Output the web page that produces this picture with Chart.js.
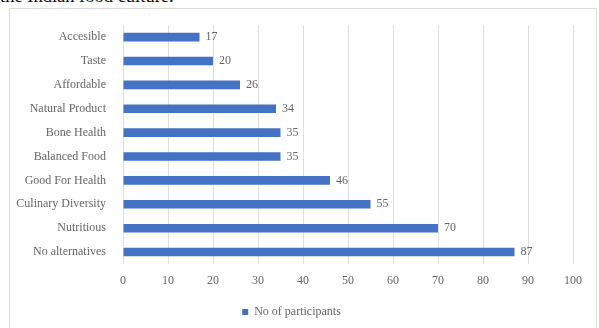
<!DOCTYPE html>
<html>
<head>
<meta charset="utf-8">
<script src="https://cdn.jsdelivr.net/npm/chart.js@4.4.0/dist/chart.umd.min.js"></script>
<style>
  html, body { margin: 0; padding: 0; background: #fff; overflow: hidden; }
  body { width: 599px; height: 328px; position: relative; }
  .caption {
    position: absolute; left: 0; top: -14px;
    font: 18.5px "Liberation Serif", serif; color: #111; white-space: nowrap;
  }
  .frame {
    position: absolute; left: 9px; top: 8px; width: 586px; height: 330px;
    border: 1px solid #dcdcdc;
  }
  #chart { position: absolute; left: 10px; top: 9px; }
</style>
</head>
<body>
<div class="caption">the Indian food culture.</div>
<div class="frame"></div>
<canvas id="chart" width="586" height="319"></canvas>
<script>
const categories = [
  "Accesible", "Taste", "Affordable", "Natural Product", "Bone Health",
  "Balanced Food", "Good For Health", "Culinary Diversity", "Nutritious", "No alternatives"
];
const participants = [17, 20, 26, 34, 35, 35, 46, 55, 70, 87];
const seriesName = "No of participants";
const xTicks = [0, 10, 20, 30, 40, 50, 60, 70, 80, 90, 100];

const textColor = "#666666";
const fontFamily = "'Liberation Serif', 'Times New Roman', serif";

// value labels just past the end of each bar
const barValues = {
  id: "barValues",
  afterDatasetsDraw(chart) {
    const { ctx } = chart;
    const meta = chart.getDatasetMeta(0);
    ctx.save();
    ctx.font = `12px ${fontFamily}`;
    ctx.fillStyle = textColor;
    ctx.textAlign = "left";
    ctx.textBaseline = "middle";
    meta.data.forEach((bar, i) => {
      ctx.fillText(String(participants[i]), bar.x + 6, bar.y);
    });
    ctx.restore();
  }
};

new Chart(document.getElementById("chart"), {
  type: "bar",
  data: {
    labels: categories,
    datasets: [{
      label: seriesName,
      data: participants,
      backgroundColor: "#4472c4",
      borderWidth: 0,
      categoryPercentage: 1,
      barPercentage: 0.36
    }]
  },
  options: {
    indexAxis: "y",
    responsive: false,
    animation: false,
    layout: { padding: { top: 16, right: 23, left: 0, bottom: 0 } },
    plugins: {
      tooltip: { enabled: false },
      legend: {
        position: "bottom",
        labels: {
          color: textColor,
          font: { family: fontFamily, size: 12 },
          boxWidth: 6,
          boxHeight: 6,
          padding: 10
        }
      }
    },
    scales: {
      x: {
        min: 0,
        max: 100,
        afterBuildTicks(scale) { scale.ticks = xTicks.map((v) => ({ value: v })); },
        grid: { color: "#dedede", drawTicks: false },
        border: { display: false },
        ticks: { color: textColor, font: { family: fontFamily, size: 12 }, padding: 10 },
        afterFit(scale) { scale.height = 32; }
      },
      y: {
        grid: { display: false },
        border: { display: false },
        ticks: { color: textColor, font: { family: fontFamily, size: 12 }, padding: 9 },
        afterFit(scale) { scale.width = 113; }
      }
    }
  },
  plugins: [barValues]
});
</script>
</body>
</html>
